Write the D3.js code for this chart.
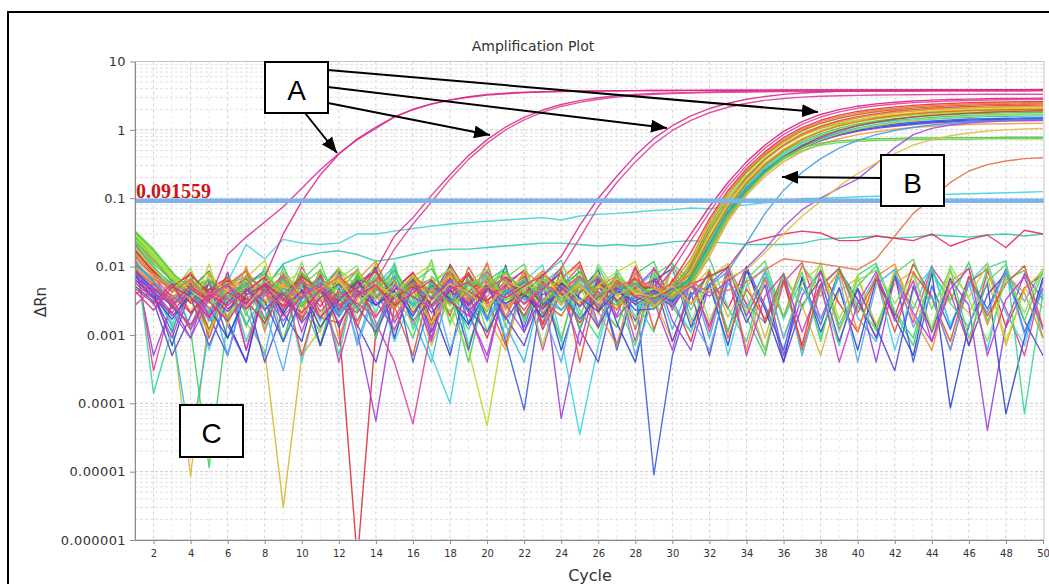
<!DOCTYPE html>
<html>
<head>
<meta charset="utf-8">
<script src="https://cdn.jsdelivr.net/npm/d3@7"></script>
<style>
  body { margin: 0; background: #fff; }
  svg text { font-family: "DejaVu Sans", sans-serif; }
</style>
</head>
<body>
<div id="vis"></div>
<script>
// ---- data ----
const cycles = [1,2,3,4,5,6,7,8,9,10,11,12,13,14,15,16,17,18,19,20,21,22,23,24,25,
                26,27,28,29,30,31,32,33,34,35,36,37,38,39,40,41,42,43,44,45,46,47,48,49,50];
const xTickValues = [2,4,6,8,10,12,14,16,18,20,22,24,26,28,30,32,34,36,38,40,42,44,46,48,50];
const yTickValues = [0.000001,0.00001,0.0001,0.001,0.01,0.1,1,10];
const yTickLabels = ["0.000001","0.00001","0.0001","0.001","0.01","0.1","1","10"];
const thresholdValue = 0.091559;

// wells that never amplify (baseline noise)
const noiseRuns = [
  [.012,.006,.0015,.0000085,.0022,.0065,.0015,.0006,.000003,.0005, .0012,.0068,.0024,.0095,.0011,.0052,.0007,.0038,.0082,.0019, .0006,.0058,.0031,.0009,.0074,.0026,.0013,.0088,.0035,.0008, .0047,.0092,.0018,.0063,.0009,.0071,.0027,.0005,.0044,.0068, .0014,.0056,.0086,.0011,.0039,.0021,.0072,.0007,.0048,.0025],
  [.028,.014,.006,.0012,.0000115,.0018,.0076,.0014,.0098,.0031, .0007,.0084,.0022,.0112,.0035,.0009,.0072,.0041,.0004,.0062, .0095,.0017,.0058,.0008,.0105,.0029,.0013,.0078,.0118,.0026, .0011,.0069,.0097,.0018,.0005,.0074,.0025,.0091,.0014,.0052, .0102,.0021,.0007,.0081,.0032,.0115,.0016,.0064,.0088,.0009],
  [.009,.0048,.0013,.000025,.0012,.0061,.0022,.0005,.0082,.0029, .0011,.0069,.0008,.0052,.0103,.0017,.0004,.0066,.0023,.0089, .0014,.0004,.0056,.0094,.0019,.0071,.0007,.0048,.0081,.0012, .0063,.0009,.0087,.0028,.0015,.0072,.0005,.0049,.0096,.0018, .0008,.0077,.0024,.0104,.0013,.0059,.0006,.0083,.0031,.0092],
  [.022,.009,.0043,.0051,.0046,.0044,.0052,.0047,.0027,.0078, .0018,.0015,.0000005,.0012,.0046,.0082,.0016,.0108,.0039,.0009, .0052,.0089,.0014,.0066,.0118,.0021,.0079,.0012,.0097,.0033, .0008,.0071,.0024,.0101,.0015,.0062,.0007,.0086,.0029,.0011, .0075,.0019,.0109,.0036,.0006,.0058,.0093,.0013,.0049,.0078],
  [.011,.0005,.0028,.0009,.0061,.0014,.0004,.0052,.0008,.0073, .0017,.0088,.0011,.000055,.0026,.0068,.0009,.0097,.0021,.0005, .0057,.0013,.0081,.00006,.0012,.0064,.0007,.0049,.0091,.0016, .0006,.0055,.0098,.0019,.0069,.0005,.0038,.0085,.0012,.0047, .0004,.0072,.0021,.0008,.0066,.0027,.00004,.0014,.0079,.0033],
  [.015,.0003,.0032,.0083,.0011,.0058,.0006,.0071,.0019,.0099, .0034,.0007,.0076,.0015,.0004,.00005,.0013,.0088,.0026,.0112, .0018,.0065,.0006,.0051,.0101,.0014,.0069,.0008,.0092,.0023, .0077,.0011,.0104,.0028,.0006,.0059,.0115,.0017,.0081,.0032, .0009,.0068,.0015,.0097,.0041,.0007,.0086,.0024,.0005,.0063],
  [.0068,.0052,.0014,.0063,.0006,.0044,.0091,.0012,.0072,.0004, .0048,.0095,.0016,.0067,.0008,.0035,.0005,.0001,.0042,.0087, .0013,.0061,.0106,.0009,.000035,.0007,.0073,.0018,.0084,.0031, .0011,.0079,.0005,.0052,.0098,.0017,.0066,.0009,.0089,.0024, .0074,.0006,.0045,.0093,.0014,.0058,.0112,.0021,.0007,.0069],
  [.0095,.0038,.0011,.0068,.0019,.0005,.0054,.0087,.0013,.0062, .0007,.0041,.0091,.0009,.0073,.0004,.0036,.0102,.0015,.0064, .0008,.00008,.0047,.0083,.0012,.0069,.0006,.0053,.000009,.0005, .0038,.0077,.0011,.0098,.0027,.0006,.0065,.0014,.0089,.0033, .0009,.0078,.0004,.0052,.0012,.0071,.0024,.0092,.0011,.0048],
  [.0075,.0044,.0007,.0047,.0086,.0016,.0004,.0063,.0021,.0008, .0079,.0013,.0052,.0098,.0009,.0068,.0027,.0005,.0081,.0017, .0105,.0011,.0058,.0006,.0043,.0089,.0015,.0004,.0062,.0094, .0013,.0055,.0007,.0087,.0024,.0004,.0071,.0011,.0049,.0006, .0066,.0018,.0005,.0082,.000085,.0014,.0057,.00007,.0009,.0069],
  [.019,.00014,.0012,.0056,.0011,.0082,.0008,.0047,.0106,.0016, .0069,.0005,.0085,.0021,.0115,.0012,.0058,.0093,.0007,.0049, .0098,.0015,.0072,.0124,.0023,.0009,.0091,.0031,.0011,.0108, .0064,.0132,.0025,.0008,.0084,.0018,.0103,.0046,.0007,.0075, .0112,.0022,.0009,.0088,.0029,.0013,.0096,.0121,.00007,.0041],
  [.024,.012,.0083,.0021,.0109,.0014,.0068,.0124,.0023,.0086, .0011,.0097,.0031,.0115,.0016,.0072,.0105,.0019,.0006,.000047, .0018,.0091,.0027,.0101,.0054,.0012,.0083,.0118,.0024,.0092, .0015,.0069,.0112,.0021,.0087,.0009,.0058,.0104,.0017,.0076, .0011,.0095,.0029,.0013,.0084,.0036,.0108,.0008,.0047,.0089],
  [.0052,.0031,.0005,.0019,.0058,.0009,.0041,.0004,.0023,.0067, .0007,.0049,.0014,.0004,.0038,.0072,.0011,.0053,.0006,.0061, .0018,.0007,.0046,.0083,.0012,.0004,.0057,.0016,.0069,.0008, .0042,.0005,.0071,.0015,.0054,.0004,.0027,.0066,.0008,.0048, .0013,.0003,.0052,.0011,.0068,.0007,.0039,.0079,.0016,.0005],
  [.0105,.0062,.0031,.0012,.0079,.0018,.0102,.0011,.0071,.0021, .0092,.0009,.0064,.0121,.0024,.0083,.0013,.0097,.0032,.0114, .0017,.0087,.0012,.0069,.0106,.0022,.0007,.0081,.0025,.0098, .0054,.0014,.0089,.0006,.0067,.0019,.0103,.0037,.0084,.0011, .0072,.0109,.0018,.0006,.0061,.0093,.0014,.0076,.0041,.0009],
  [.033,.018,.0085,.0032,.0011,.0082,.0019,.0101,.0008,.0063, .0118,.0021,.0081,.0009,.0094,.0028,.0126,.0015,.0077,.0011, .0068,.0109,.0019,.0087,.0012,.0098,.0031,.0007,.0074,.0112, .0023,.0089,.0011,.0065,.0121,.0018,.0083,.0008,.0096,.0027, .0012,.0079,.0128,.0024,.0092,.0009,.0061,.0107,.0016,.0084],
  [.0125,.0078,.0024,.0061,.0009,.0052,.0086,.0017,.0068,.0005, .0044,.0092,.0013,.0071,.0026,.0005,.0064,.0019,.0098,.0033, .0007,.0075,.0015,.0089,.0004,.0058,.0023,.0101,.0012,.0066, .0028,.0085,.0009,.0047,.0017,.0079,.0006,.0054,.0093,.0021, .0067,.0011,.0082,.0035,.0008,.0072,.0019,.0056,.0103,.0013],
  [.021,.0105,.0041,.0095,.0022,.0074,.0013,.0088,.0031,.0116, .0019,.0067,.0103,.0011,.0079,.0034,.0121,.0014,.0059,.0092, .0025,.0082,.0007,.0071,.0018,.0109,.0042,.0013,.0086,.0027, .0099,.0016,.0072,.0038,.0006,.0081,.0024,.0113,.0011,.0063, .0089,.0029,.0076,.0012,.0104,.0033,.0008,.0069,.0021,.0094],
  [.0088,.0027,.0069,.0012,.0047,.0005,.0061,.0024,.0003,.0052, .0016,.0079,.0007,.0043,.0089,.0014,.0063,.0006,.0036,.0074, .0009,.0051,.0022,.0004,.0067,.0013,.0081,.0005,.0041,.0092, .0018,.0006,.0058,.0025,.0084,.0009,.0049,.0017,.0071,.0004, .0055,.0091,.0013,.0038,.0006,.0062,.0021,.0087,.001,.0046],
  [.0072,.0035,.0009,.0056,.0018,.0083,.0006,.0041,.0075,.0011, .0062,.0004,.0038,.0091,.0015,.0049,.0008,.0069,.0022,.0004, .0058,.0086,.0012,.0044,.0007,.0073,.0019,.0097,.0031,.0006, .0064,.0013,.0081,.0005,.0037,.0078,.0011,.0056,.0004,.0029, .0084,.0016,.0062,.0008,.0047,.0095,.0005,.0033,.0071,.0012]
];
const noiseColors = ["#d8b830","#3cd060","#30bde0","#e0303c","#9a40e0","#e0409a","#40d0e8",
                     "#3a5ee0","#2f46cf","#38d890","#c0d828","#5a48c8","#f08a30","#58d858",
                     "#e85030","#88e060","#58a8f0","#c838c8"];

// slow drifting wells that stay near or under the threshold
const driftRuns = [
  [.017,.0082,.0047,.0063,.0038,.0055,.0072,.0049,.011,.014, .016,.017,.015,.012,.013,.015,.017,.018,.018,.019, .02,.021,.022,.022,.021,.02,.021,.02,.021,.023, .024,.023,.022,.021,.021,.021,.022,.025,.026,.027, .028,.026,.027,.029,.028,.027,.029,.03,.028,.03],
  [.011,.0058,.0036,.0047,.0029,.006,.021,.013,.025,.022, .021,.022,.03,.03,.033,.036,.039,.042,.044,.046, .048,.05,.052,.048,.055,.058,.06,.063,.066,.068, .072,.07,.075,.08,.086,.092,.098,.1,.102,.105, .107,.11,.11,.112,.114,.116,.118,.12,.122,.125],
  [.0085,.0047,.0031,.0058,.0024,.0043,.0067,.0029,.0052,.0036, .0071,.0026,.0045,.0019,.0038,.0062,.0033,.0054,.0027,.0048, .0069,.0035,.0024,.0057,.0041,.0074,.0032,.0049,.0063,.0038, .0055,.0072,.0098,.022,.026,.03,.033,.031,.024,.024, .028,.026,.024,.03,.02,.025,.029,.019,.034,.03]
];
const driftColors = ["#30c8b0","#40d4dc","#e0305a"];

// group B: samples crossing the threshold around cycle 32-44
const curvesB = [
  [.021,.0092,.0048,.0031,.0057,.0024,.0043,.0069,.0035,.0018, .0052,.0037,.0064,.0027,.0045,.0081,.0033,.0056,.0022,.0047, .0071,.0038,.0026,.0059,.0042,.0068,.0031,.0049, .005,.012,.03,.075,.17,.34,.6,.95,1.32,1.68,1.98,2.22,2.4,2.54,2.64,2.72,2.78,2.82,2.85,2.87,2.89,2.9],
  [.014,.0071,.0036,.0052,.0019,.0044,.0028,.0061,.0034,.0075, .0041,.0023,.0056,.0037,.0018,.0049,.0066,.0029,.0042,.0084, .0035,.0053,.0021,.0046,.0073,.0032,.0058,.0038, .004,.009,.024,.062,.15,.3,.54,.86,1.2,1.54,1.83,2.07,2.25,2.39,2.5,2.58,2.64,2.69,2.73,2.76,2.78,2.8],
  [.018,.0083,.0055,.0029,.0046,.0067,.0032,.0015,.0048,.0059, .0026,.0071,.0043,.0034,.0062,.0021,.0051,.0039,.0076,.0028, .0044,.0019,.0063,.0035,.0054,.0024,.0047,.0068, .0035,.006,.016,.05,.13,.27,.48,.77,1.08,1.38,1.64,1.86,2.03,2.17,2.28,2.37,2.44,2.49,2.53,2.56,2.58,2.6],
  [.026,.012,.0068,.0041,.0063,.0035,.0052,.0027,.0074,.0046, .0031,.0057,.0088,.0039,.0024,.0061,.0043,.0029,.0055,.0036, .0079,.0045,.0032,.0064,.0027,.0051,.0073,.0034, .0042,.0055,.013,.045,.12,.25,.45,.72,1.02,1.31,1.56,1.77,1.94,2.07,2.18,2.27,2.34,2.4,2.44,2.47,2.49,2.5],
  [.0095,.0058,.0027,.0044,.0012,.0037,.0053,.0024,.0041,.0016, .0062,.0033,.0021,.0048,.0029,.0057,.0014,.0038,.0063,.0026, .0045,.0071,.0031,.0019,.0052,.0036,.0024,.0047, .003,.0048,.011,.04,.11,.24,.43,.68,.97,1.24,1.48,1.68,1.84,1.97,2.08,2.17,2.24,2.3,2.34,2.37,2.39,2.4],
  [.031,.016,.0075,.0052,.0038,.0066,.0047,.0029,.0058,.0084, .0036,.0061,.0025,.0049,.0072,.0034,.0055,.0092,.0041,.0063, .0028,.0052,.0077,.0039,.0057,.0033,.0069,.0045, .0046,.0039,.012,.042,.11,.23,.41,.64,.9,1.14,1.35,1.53,1.68,1.8,1.9,1.98,2.05,2.1,2.14,2.17,2.19,2.2],
  [.027,.013,.0059,.0034,.0071,.0043,.0025,.0062,.0038,.0053, .0089,.0031,.0048,.0066,.0027,.0054,.0036,.0078,.0045,.0022, .0058,.0035,.0067,.0049,.0083,.0037,.0054,.0028, .0033,.0052,.01,.036,.1,.21,.38,.59,.83,1.05,1.24,1.4,1.54,1.65,1.74,1.81,1.87,1.92,1.95,1.97,1.99,2.0],
  [.0088,.0054,.0038,.0021,.0047,.0069,.0033,.0055,.0024,.0041, .0073,.0029,.0016,.0052,.0038,.0064,.0027,.0045,.0081,.0032, .0049,.0023,.0058,.0041,.0015,.0047,.0062,.0036, .0028,.0044,.0095,.033,.09,.2,.37,.6,.86,1.12,1.36,1.56,1.73,1.87,1.98,2.07,2.14,2.2,2.24,2.27,2.29,2.3],
  [.016,.0077,.0042,.0065,.0031,.0049,.0086,.0037,.0058,.0026, .0044,.0068,.0035,.0051,.0023,.0076,.0041,.0029,.0063,.0047, .0032,.0085,.0054,.0027,.0066,.0039,.0024,.0057, .0051,.0036,.009,.032,.088,.19,.36,.58,.83,1.08,1.3,1.49,1.65,1.78,1.88,1.96,2.03,2.09,2.13,2.16,2.18,2.2],
  [.029,.015,.0071,.0045,.0083,.0036,.0059,.0027,.0047,.0069, .0033,.0091,.0052,.0038,.0065,.0024,.0048,.0073,.0035,.0057, .0082,.0043,.0029,.0061,.0046,.0077,.0037,.0054, .0039,.0047,.0085,.03,.082,.18,.33,.52,.74,.95,1.14,1.3,1.44,1.55,1.64,1.71,1.77,1.82,1.85,1.87,1.89,1.9],
  [.013,.0069,.0047,.0032,.0011,.0045,.0062,.0028,.0051,.0037, .0019,.0056,.0034,.0072,.0025,.0043,.0015,.0039,.0058,.0027, .0047,.0066,.0022,.0041,.0029,.0053,.0035,.0018, .0026,.0041,.008,.027,.078,.17,.32,.52,.75,.98,1.2,1.39,1.55,1.68,1.79,1.87,1.94,1.99,2.03,2.06,2.08,2.1],
  [.024,.011,.0063,.0039,.0057,.0028,.0072,.0046,.0033,.0081, .0042,.0026,.0067,.0048,.0035,.0059,.0093,.0031,.0052,.0074, .0038,.0061,.0027,.0049,.0085,.0036,.0055,.0043, .0044,.0033,.0075,.025,.072,.16,.3,.48,.68,.88,1.06,1.22,1.35,1.46,1.55,1.62,1.68,1.72,1.75,1.77,1.79,1.8],
  [.011,.0066,.0049,.0082,.0037,.0056,.0025,.0044,.0071,.0034, .0058,.0021,.0047,.0063,.0029,.0076,.0042,.0055,.0031,.0068, .0025,.0049,.0087,.0038,.0053,.0027,.0062,.0045, .0031,.0049,.0078,.026,.074,.165,.31,.5,.72,.94,1.15,1.33,1.48,1.61,1.71,1.79,1.86,1.91,1.95,1.97,1.99,2.0],
  [.022,.0098,.0055,.0037,.0064,.0029,.0048,.0017,.0042,.0061, .0035,.0053,.0024,.0079,.0041,.0028,.0057,.0036,.0012,.0045, .0066,.0032,.0051,.0023,.0043,.0071,.0029,.0054, .0037,.0028,.007,.023,.068,.15,.28,.45,.64,.83,1.0,1.15,1.27,1.37,1.45,1.52,1.58,1.62,1.65,1.67,1.69,1.7],
  [.0082,.0049,.0026,.0014,.0038,.0022,.0047,.0031,.0008,.0035, .0052,.0019,.0041,.0027,.0056,.0016,.0033,.0045,.0024,.0011, .0039,.0058,.0028,.0042,.0017,.0036,.0049,.0023, .0024,.0043,.0068,.021,.063,.14,.26,.41,.58,.74,.89,1.02,1.13,1.22,1.29,1.35,1.4,1.44,1.46,1.48,1.49,1.5],
  [.0064,.0036,.0017,.0042,.0025,.0009,.0038,.0054,.0021,.0046, .0013,.0032,.0061,.0027,.0044,.0019,.0053,.0034,.0014,.0048, .0029,.0041,.0018,.0057,.0035,.0022,.0043,.0031, .0045,.0031,.0062,.019,.058,.13,.25,.4,.56,.72,.86,.98,1.08,1.17,1.24,1.3,1.35,1.39,1.41,1.43,1.44,1.45],
  [.012,.0061,.0033,.0048,.0021,.0056,.0014,.0039,.0067,.0029, .0045,.0018,.0052,.0036,.0073,.0026,.0049,.0031,.0058,.0016, .0042,.0064,.0034,.0023,.0055,.0038,.0071,.0027, .0029,.0052,.0064,.019,.06,.135,.26,.42,.6,.77,.93,1.07,1.19,1.29,1.37,1.44,1.49,1.53,1.56,1.58,1.59,1.6],
  [.0071,.0042,.0019,.0036,.0007,.0031,.0048,.0023,.0042,.0015, .0035,.0056,.0026,.0011,.0039,.0062,.0021,.0044,.0029,.0053, .0017,.0038,.0024,.0047,.0033,.0013,.0045,.0028, .0041,.0026,.0058,.017,.054,.125,.24,.38,.54,.69,.83,.95,1.05,1.13,1.2,1.26,1.3,1.34,1.36,1.38,1.39,1.4],
  [.017,.0086,.0052,.0075,.0041,.0063,.0029,.0054,.0038,.0071, .0046,.0023,.0059,.0084,.0035,.0051,.0027,.0068,.0043,.0031, .0062,.0038,.0077,.0049,.0026,.0057,.0041,.0065, .0034,.0047,.0055,.016,.05,.12,.24,.4,.59,.79,.98,1.15,1.3,1.43,1.54,1.63,1.7,1.76,1.81,1.85,1.88,1.9],
  [.025,.014,.0067,.0044,.0029,.0058,.0036,.0071,.0049,.0025, .0063,.0041,.0087,.0033,.0055,.0038,.0069,.0026,.0047,.0078, .0034,.0056,.0042,.0067,.0031,.0053,.0084,.0039, .0048,.0035,.0054,.016,.05,.118,.23,.38,.55,.72,.88,1.03,1.16,1.27,1.37,1.45,1.52,1.58,1.62,1.65,1.68,1.7],
  [.0097,.0057,.0035,.0061,.0024,.0047,.0071,.0032,.0054,.0019, .0043,.0066,.0028,.0051,.0037,.0015,.0046,.0072,.0035,.0058, .0023,.0049,.0064,.0031,.0045,.0076,.0038,.0052, .0027,.0044,.005,.014,.046,.11,.21,.34,.48,.62,.74,.85,.94,1.02,1.08,1.13,1.17,1.2,1.22,1.23,1.24,1.25],
  [.032,.017,.0081,.0049,.0065,.0033,.0054,.0078,.0041,.0026, .0059,.0037,.0072,.0045,.0091,.0034,.0052,.0028,.0063,.0047, .0085,.0039,.0056,.0031,.0068,.0043,.0027,.0059, .0036,.0042,.0066,.02,.06,.13,.24,.4,.54,.64,.69,.72,.74,.75,.76,.76,.77,.77,.77,.78,.78,.78],
  [.02,.0095,.0046,.0068,.0035,.0017,.0052,.0039,.0063,.0028, .0081,.0044,.0024,.0057,.0036,.0069,.0041,.0022,.0054,.0076, .0032,.0048,.0065,.0029,.0051,.0037,.0073,.0044, .0025,.0038,.006,.018,.055,.12,.23,.37,.5,.6,.65,.68,.7,.71,.72,.72,.73,.73,.74,.74,.74,.74],
  [.0105,.0063,.0028,.0045,.0016,.0037,.0059,.0024,.0048,.0033, .0067,.0021,.0042,.0013,.0054,.0036,.0025,.0061,.0039,.0018, .0047,.0029,.0055,.0034,.0072,.0026,.0043,.0057, .0031,.0046,.0038,.0052,.0085,.022,.06,.13,.24,.38,.54,.7,.85,.98,1.09,1.18,1.25,1.3,1.34,1.37,1.39,1.4],
  [.0078,.0045,.0021,.0009,.0034,.0053,.0027,.0041,.0016,.0038, .0058,.0024,.0046,.0031,.0012,.0049,.0035,.0063,.0022,.0044, .0028,.0011,.0039,.0052,.0026,.0043,.0018,.0036, .0043,.0029,.0051,.0037,.0062,.0095,.018,.038,.068,.1,.14,.19,.32,.55,.85,1.05,1.18,1.26,1.31,1.34,1.36,1.37],
  [.019,.0092,.0051,.0034,.0072,.0043,.0026,.0058,.0085,.0037, .0049,.0064,.0028,.0053,.0039,.0075,.0031,.0056,.0042,.0024, .0061,.0047,.0083,.0035,.0054,.0029,.0068,.0041, .0036,.0052,.0029,.0047,.0068,.009,.016,.03,.055,.09,.15,.23,.33,.45,.6,.72,.82,.9,.96,1.0,1.03,1.05],
  [.015,.0078,.0043,.0064,.0032,.0055,.0087,.0039,.0027,.0061, .0045,.0072,.0036,.0051,.0024,.0058,.0043,.0081,.0034,.0049, .0067,.0028,.0055,.0041,.0073,.0037,.0052,.0064, .0048,.0035,.0059,.0042,.0045,.006,.009,.013,.012,.011,.01,.009,.013,.028,.06,.1,.17,.25,.31,.35,.38,.39]
];
const curvesBColors = ["#e0207c","#e8459c","#e03040","#f07828","#cc6024","#b0d820","#5ccf40",
                       "#e04848","#f09830","#90e030","#e0c830","#40c850","#e87020","#30c8a0",
                       "#3060e0","#2050d0","#30b0e0","#8040d0","#c84030","#a8e040","#f0a040",
                       "#50c840","#70d050","#40a0e8","#a050e0","#e0c040","#e87048"];

// group A: early positive controls (duplicates)
const curvesA = [
  [.0062,.0041,.0028,.0052,.0033,.015,.027,.045,.075,.14, .26,.45,.72,1.05,1.55,2.0,2.4,2.75,3.05,3.3, 3.45,3.55,3.62,3.67,3.7,3.72,3.74,3.75,3.76,3.77, 3.78,3.78,3.79,3.8,3.8,3.81,3.81,3.82,3.82,3.83, 3.83,3.84,3.84,3.85,3.85,3.85,3.86,3.86,3.86,3.87],
  [.0048,.0029,.0056,.0021,.0039,.0027,.0044,.007,.03,.09, .22,.44,.74,1.1,1.55,1.98,2.38,2.72,3.0,3.22, 3.38,3.5,3.58,3.64,3.68,3.71,3.73,3.75,3.76,3.77, 3.78,3.79,3.8,3.8,3.81,3.82,3.82,3.83,3.83,3.84, 3.84,3.85,3.85,3.86,3.86,3.87,3.87,3.87,3.88,3.88],
  [.0058,.0034,.0021,.0047,.0031,.0016,.0039,.0052,.0026,.0043, .0018,.0035,.0049,.009,.028,.052,.11,.22,.42,.72, 1.1,1.52,1.95,2.35,2.68,2.95,3.15,3.3,3.4,3.48, 3.54,3.58,3.61,3.64,3.66,3.68,3.69,3.7,3.71,3.72, 3.73,3.74,3.74,3.75,3.75,3.76,3.76,3.77,3.77,3.78],
  [.0039,.0057,.0028,.0014,.0042,.0033,.0024,.0046,.0019,.0037, .0051,.0027,.0041,.0062,.018,.042,.088,.19,.37,.64, 1.0,1.4,1.82,2.2,2.52,2.8,3.02,3.18,3.3,3.39, 3.45,3.5,3.54,3.57,3.6,3.62,3.63,3.64,3.65,3.66, 3.67,3.68,3.68,3.69,3.69,3.7,3.7,3.71,3.71,3.72],
  [.0044,.0023,.0051,.0036,.0018,.0042,.0029,.0057,.0033,.0021, .0046,.0015,.0038,.0054,.0027,.0041,.0063,.0031,.0019,.0048, .0035,.0052,.0074,.014,.04,.1,.21,.42,.75,1.15, 1.6,2.05,2.45,2.8,3.08,3.3,3.46,3.58,3.66,3.72, 3.76,3.79,3.81,3.83,3.84,3.85,3.86,3.87,3.88,3.89],
  [.0027,.0049,.0034,.0012,.0038,.0056,.0024,.0045,.0031,.0067, .0022,.0043,.0029,.0018,.0052,.0036,.0025,.0047,.0059,.0032, .0054,.0028,.0046,.0095,.026,.075,.17,.34,.62,.98, 1.38,1.78,2.14,2.45,2.7,2.88,3.01,3.1,3.16,3.2, 3.23,3.25,3.27,3.28,3.29,3.3,3.31,3.31,3.32,3.32]
];
const curvesAColors = ["#d8309a","#e02888","#d8308e","#e04890","#d82c90","#e0409c"];

// callouts drawn over the plot (page pixels)
const calloutBoxes = [
  {label: "A", x: 265, y: 62, w: 63, h: 51},
  {label: "B", x: 881, y: 155, w: 63, h: 51},
  {label: "C", x: 180, y: 405, w: 63, h: 52}
];
const calloutArrows = [
  [328, 70, 818, 112],
  [328, 87, 667, 128],
  [328, 103, 490, 135],
  [305, 113, 337, 153],
  [881, 178, 782, 177]
];

// ---- drawing ----
const W = 1049, H = 584;
const plotLeft = 135, plotRight = 1044, plotTop = 61.5, plotBottom = 540;

const svg = d3.select("#vis").append("svg")
  .attr("width", W).attr("height", H)
  .style("display", "block");

const x = d3.scaleLinear().domain([1, 50]).range([plotLeft, 1043]);
const y = d3.scaleLog().domain([0.000001, 10]).range([plotBottom, plotTop]);

// outer frame of the figure
svg.append("path")
  .attr("d", "M8," + H + "V12H" + W)
  .attr("fill", "none").attr("stroke", "#000").attr("stroke-width", 2);

svg.append("rect")
  .attr("x", plotLeft).attr("y", plotTop)
  .attr("width", plotRight - plotLeft).attr("height", plotBottom - plotTop)
  .attr("fill", "#fff");

/* grid */
const grid = svg.append("g");
grid.selectAll("line.v").data(cycles.slice(1, -1)).enter().append("line")
  .attr("x1", d => x(d)).attr("x2", d => x(d))
  .attr("y1", plotTop).attr("y2", plotBottom)
  .attr("stroke", d => d % 2 === 0 ? "#d2d2d2" : "#e8e8e8")
  .attr("stroke-dasharray", "3,3");

grid.selectAll("line.h").data(y.ticks()).enter().append("line")
  .attr("x1", plotLeft).attr("x2", plotRight)
  .attr("y1", d => y(d)).attr("y2", d => y(d))
  .attr("stroke", d => yTickValues.some(t => Math.abs(t - d) / t < 1e-6) ? "#cccccc" : "#e2e2e2")
  .attr("stroke-dasharray", "3,2");

/* curves */
svg.append("clipPath").attr("id", "plotClip")
  .append("rect").attr("x", plotLeft).attr("y", plotTop)
  .attr("width", plotRight - plotLeft).attr("height", plotBottom - plotTop);

const line = d3.line()
  .defined(d => d != null && d > 0)
  .x((d, i) => x(cycles[i]))
  .y(d => y(d));

const series = []
  .concat(noiseRuns.map((v, i) => ({v: v, c: noiseColors[i]})))
  .concat(driftRuns.map((v, i) => ({v: v, c: driftColors[i]})))
  .concat(curvesB.map((v, i) => ({v: v, c: curvesBColors[i]})))
  .concat(curvesA.map((v, i) => ({v: v, c: curvesAColors[i]})));

svg.append("g").attr("clip-path", "url(#plotClip)")
  .selectAll("path").data(series).enter().append("path")
  .attr("d", d => line(d.v))
  .attr("fill", "none")
  .attr("stroke", d => d.c)
  .attr("stroke-width", 1.4)
  .attr("stroke-opacity", 0.9)
  .attr("stroke-linejoin", "round");

/* threshold */
svg.append("line")
  .attr("x1", plotLeft).attr("x2", plotRight)
  .attr("y1", y(thresholdValue)).attr("y2", y(thresholdValue))
  .attr("stroke", "#7db3e8").attr("stroke-width", 4.5);

svg.append("text")
  .attr("x", plotLeft + 1).attr("y", y(thresholdValue) - 3)
  .style("font-family", "'Liberation Serif', serif")
  .style("font-weight", "bold").style("font-size", "20px")
  .attr("fill", "#d01414")
  .text(String(thresholdValue));

/* plot border */
svg.append("rect")
  .attr("x", plotLeft).attr("y", plotTop)
  .attr("width", plotRight - plotLeft).attr("height", plotBottom - plotTop)
  .attr("fill", "none").attr("stroke", "#c4c4c4");

/* axes */
const yAxis = d3.axisLeft(y)
  .tickValues(yTickValues)
  .tickFormat((d, i) => yTickLabels[i])
  .tickSize(5).tickSizeOuter(0).tickPadding(4);
const gy = svg.append("g").attr("transform", "translate(" + plotLeft + ",0)").call(yAxis);

const xAxis = d3.axisBottom(x)
  .tickValues(xTickValues)
  .tickSize(4).tickSizeOuter(0).tickPadding(6);
const gx = svg.append("g").attr("transform", "translate(0," + plotBottom + ")").call(xAxis);

[gy, gx].forEach(g => {
  g.select(".domain").attr("stroke", "#8a8a8a");
  g.selectAll(".tick line").attr("stroke", "#8a8a8a");
  g.selectAll(".tick text").attr("fill", "#333");
});
gy.selectAll(".tick text").style("font-size", "13px").style("letter-spacing", "0.4px");
gx.selectAll(".tick text").style("font-size", "10px");

svg.append("text")
  .attr("x", 533).attr("y", 51).attr("text-anchor", "middle")
  .style("font-size", "14px").attr("fill", "#333")
  .text("Amplification Plot");

svg.append("text")
  .attr("x", 590).attr("y", 581).attr("text-anchor", "middle")
  .style("font-size", "16px").attr("fill", "#333")
  .text("Cycle");

svg.append("text")
  .attr("transform", "translate(46,302) rotate(-90)")
  .attr("text-anchor", "middle")
  .style("font-size", "15px").attr("fill", "#333")
  .text("ΔRn");

/* callouts */
const defs = svg.append("defs");
defs.append("marker")
  .attr("id", "head")
  .attr("markerUnits", "userSpaceOnUse")
  .attr("markerWidth", 17).attr("markerHeight", 13)
  .attr("refX", 16).attr("refY", 6.5)
  .attr("orient", "auto")
  .append("path").attr("d", "M0,0L16,6.5L0,13Z").attr("fill", "#000");

svg.append("g").selectAll("line").data(calloutArrows).enter().append("line")
  .attr("x1", d => d[0]).attr("y1", d => d[1])
  .attr("x2", d => d[2]).attr("y2", d => d[3])
  .attr("stroke", "#000").attr("stroke-width", 2)
  .attr("marker-end", "url(#head)");

const boxes = svg.append("g").selectAll("g").data(calloutBoxes).enter().append("g");
boxes.append("rect")
  .attr("x", d => d.x).attr("y", d => d.y)
  .attr("width", d => d.w).attr("height", d => d.h)
  .attr("fill", "#fff").attr("stroke", "#000").attr("stroke-width", 2);
boxes.append("text")
  .attr("x", d => d.x + d.w / 2).attr("y", d => d.y + d.h / 2 + 12)
  .attr("text-anchor", "middle")
  .style("font-family", "'Liberation Sans', Arial, sans-serif")
  .style("font-size", "28px").attr("fill", "#000")
  .text(d => d.label);
</script>
</body>
</html>
